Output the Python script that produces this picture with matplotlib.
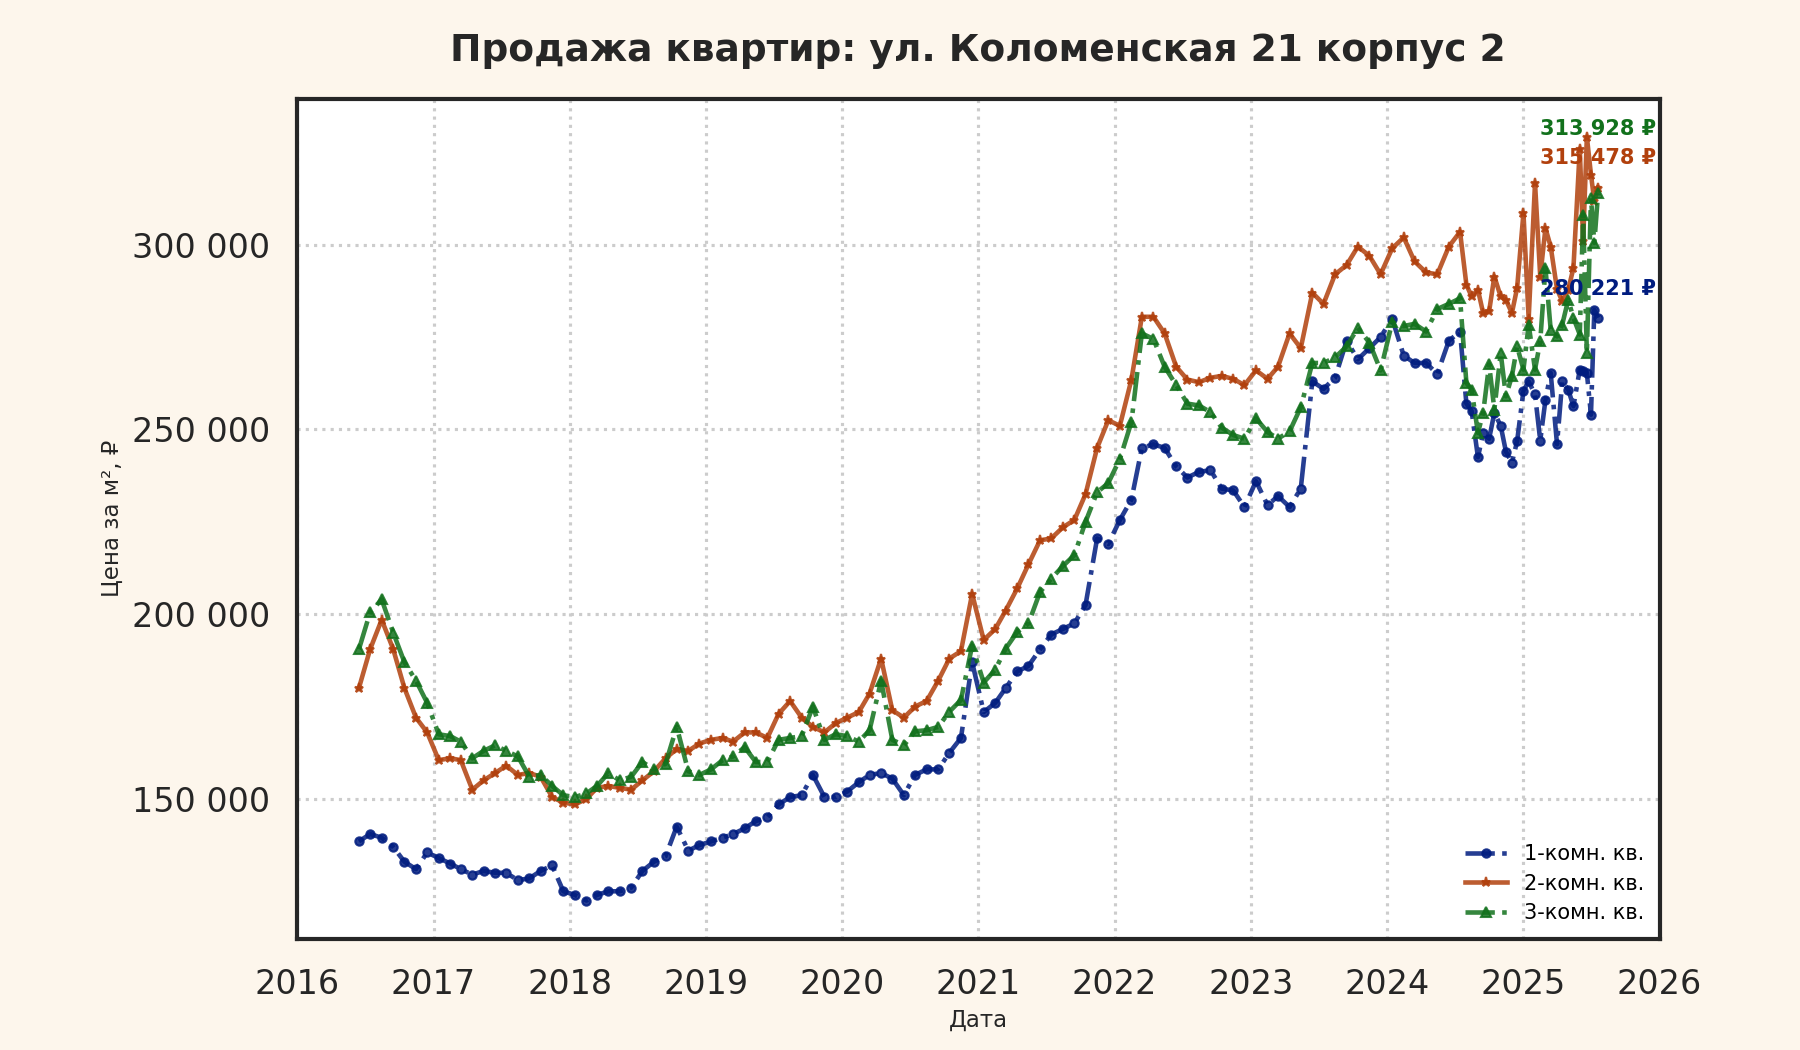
import matplotlib
matplotlib.use("Agg")
import matplotlib.pyplot as plt
import matplotlib.dates as mdates
import matplotlib.ticker as mticker
import pandas as pd
import numpy as np

plt.rcParams['font.family'] = ['DejaVu Sans']

title = "Продажа квартир: ул. Коломенская 21 корпус 2"
xlabel = "Дата"
ylabel = "Цена за м², ₽"
labels = ["1-комн. кв.", "2-комн. кв.", "3-комн. кв."]
colors = ["#001c7f", "#b1400d", "#12711c"]

monthly_dates = pd.date_range("2016-06-01", "2024-07-01", freq="MS") + pd.Timedelta(days=14)
late_dates = pd.to_datetime([
    "2024-08-01", "2024-08-15", "2024-09-01", "2024-09-15", "2024-10-01", "2024-10-15",
    "2024-11-01", "2024-11-15", "2024-12-01", "2024-12-15", "2025-01-01", "2025-01-15",
    "2025-02-01", "2025-02-15", "2025-03-01", "2025-03-15", "2025-04-01", "2025-04-15",
    "2025-05-01", "2025-05-15", "2025-06-01", "2025-06-10", "2025-06-20", "2025-07-01",
    "2025-07-10", "2025-07-20",
])

room1 = [
    138500, 140500, 139500, 137000, 133000, 131000, 135500,
    134000, 132500, 131000, 129500, 130500, 130000, 130000, 128000, 128500, 130500, 132000, 125000,
    124000, 122500, 124000, 125000, 125000, 126000, 130500, 133000, 134500, 142500, 136000, 137500,
    138500, 139500, 140500, 142000, 144000, 145000, 148500, 150500, 151000, 156500, 150500, 150500,
    152000, 154500, 156500, 157000, 155500, 151000, 156500, 158000, 158000, 162500, 166500, 187000,
    173500, 176000, 180000, 184500, 186000, 190500, 194500, 196000, 197500, 202500, 220500, 219000,
    225500, 231000, 245000, 246000, 245000, 240000, 237000, 238500, 239000, 234000, 233500, 229000,
    236000, 229500, 232000, 229000, 234000, 263000, 261000, 264000, 274000, 269000, 272000, 275000,
    280000, 270000, 268000, 268000, 265000, 274000, 276500,
    257000, 255000, 242500, 249000, 247500, 254500, 251000, 244000, 241000, 246800,
    260500, 263000, 259500, 247000, 258000, 265300, 246000, 263100, 260800, 256300,
    266200, 265800, 265300, 254000, 282400, 280221,
]
room2 = [
    180000, 190500, 198500, 190500, 180000, 172000, 168000,
    160500, 161000, 160500, 152500, 155000, 157000, 159000, 156500, 157000, 156000, 150500, 149000,
    148500, 150000, 153000, 153500, 153000, 152500, 155000, 157500, 161000, 163500, 163000, 165000,
    166000, 166500, 165500, 168000, 168000, 166500, 173000, 176500, 172000, 169500, 168000, 170500,
    172000, 173500, 178500, 188000, 174000, 172000, 175000, 176500, 182000, 188000, 190000, 205500,
    193000, 196000, 201000, 207000, 213500, 220000, 220500, 223500, 225500, 232500, 245000, 252500,
    251000, 263500, 280500, 280500, 276000, 267000, 263500, 262800, 264000, 264500, 263700, 262000,
    266000, 263700, 267000, 276000, 272000, 287000, 284000, 292000, 294500, 299500, 297000, 292000,
    299000, 302000, 295500, 292500, 292000, 299500, 303500,
    289200, 286000, 287800, 281500, 282000, 291400, 286000, 285100, 281500, 288300,
    308600, 280000, 316700, 291400, 304500, 299500, 288000, 284700, 287800, 293700,
    326000, 300900, 329200, 319000, 311800, 315478,
]
room3 = [
    190500, 200500, 204000, 195000, 187000, 182000, 176000,
    167500, 167000, 165500, 161000, 163000, 164500, 163000, 161500, 156000, 156500, 153500, 151000,
    150500, 151500, 153500, 157000, 155000, 156000, 160000, 158000, 159500, 169500, 157500, 156500,
    158000, 160500, 161500, 164000, 160000, 160000, 166000, 166500, 167000, 175000, 166000, 167500,
    167000, 165500, 168600, 182000, 166000, 164500, 168300, 168600, 169500, 173600, 176800, 191500,
    181500, 185000, 190700, 195200, 197500, 206000, 209600, 213000, 216000, 225000, 233000, 235500,
    242000, 252000, 276000, 274500, 267000, 262000, 257000, 256500, 254700, 250500, 248500, 247500,
    253000, 249300, 247500, 249500, 256000, 268000, 268000, 269500, 272500, 277500, 273500, 266000,
    279000, 278000, 278600, 276500, 282600, 284000, 285500,
    262600, 260800, 249100, 254500, 267600, 255400, 270700, 259000, 264400, 272500,
    266200, 278400, 266200, 273900, 293700, 277000, 275200, 278400, 285100, 280200,
    275700, 308100, 270700, 312600, 300500, 313928,
]

dates = monthly_dates.append(late_dates)
series = [room1, room2, room3]
styles = [dict(ls="-.", marker="o", ms=4), dict(ls="-", marker="*", ms=4.5), dict(ls="-.", marker="^", ms=5)]
ann_offsets = [14, 14, 31]

fig = plt.figure(figsize=(12, 7), dpi=150, facecolor="#fdf6ec")
ax = fig.add_axes([0.165, 0.106, 0.757, 0.800])
ax.set_facecolor("white")

for vals, lab, col, st in zip(series, labels, colors, styles):
    ax.plot(dates, vals, color=col, lw=2.2, alpha=0.85, label=lab, **st)

for vals, col, off in zip(series, colors, ann_offsets):
    txt = f"{vals[-1]:,}".replace(",", " ") + " ₽"
    ax.annotate(txt, xy=(dates[-1], vals[-1]), xytext=(0, off), textcoords="offset points",
                ha="center", va="center", color=col, fontsize=10, fontweight="bold")

ax.set_xlim(pd.Timestamp("2016-01-01"), pd.Timestamp("2026-01-01"))
ax.xaxis.set_major_locator(mdates.YearLocator())
ax.xaxis.set_major_formatter(mdates.DateFormatter("%Y"))
ax.yaxis.set_major_locator(mticker.MultipleLocator(50000))
ax.yaxis.set_major_formatter(mticker.FuncFormatter(lambda v, p: f"{int(v):,}".replace(",", " ")))

ax.grid(True, ls=":", color="#cccccc", lw=1.5)
for s in ax.spines.values():
    s.set_color("#262626")
    s.set_linewidth(2)
ax.tick_params(axis="both", length=0, labelsize=16, colors="#262626")
ax.tick_params(axis="x", pad=14)
ax.tick_params(axis="y", pad=12.8)

ax.set_title(title, fontsize=18, fontweight="bold", pad=18, color="#262626")
ax.set_xlabel(xlabel, fontsize=11, color="#262626", labelpad=4)
ax.set_ylabel(ylabel, fontsize=11, color="#262626", labelpad=4)

leg = ax.legend(loc="lower right", fontsize=10, frameon=False, handlelength=2.0,
                borderaxespad=0.35, labelspacing=0.45)

fig.savefig("out.png", dpi=150, facecolor=fig.get_facecolor())
